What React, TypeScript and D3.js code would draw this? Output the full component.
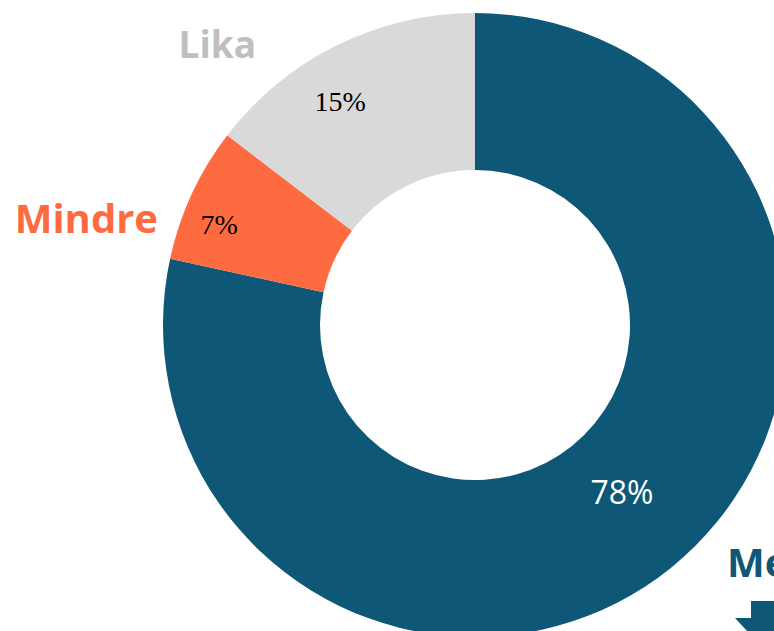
import React from "react";
import * as d3 from "d3";

const categories = ["Mer", "Mindre", "Lika"];
const values = [78.4, 7.0, 14.6];
const valueLabels = ["78%", "7%", "15%"];
const colors = ["#0E5776", "#FF6B40", "#D9D9D9"];
const labelColors = ["#0E5776", "#FF6B40", "#BFBFBF"];

const W = 774;
const H = 631;
const cx = 475;
const cy = 325;
const outerR = 312;
const innerR = 155;

export default function App() {
  const pie = d3.pie<number>().sort(null).value((d) => d)(values);
  const arc = d3.arc<d3.PieArcDatum<number>>().innerRadius(innerR).outerRadius(outerR);
  const labelRadius = [222, 275, 261];
  const labelAngleShiftDeg = [-2.6, -3.3, -4.8];
  const labelStyle = [
    { fill: "#fff", fontFamily: "'Open Sans', sans-serif", fontSize: 32 },
    { fill: "#000", fontFamily: "'Liberation Serif', serif", fontSize: 28 },
    { fill: "#000", fontFamily: "'Liberation Serif', serif", fontSize: 28 },
  ];
  const catPos = [
    { x: 727, y: 577, anchor: "start", size: 40 },
    { x: 158, y: 233, anchor: "end", size: 40 },
    { x: 256, y: 58, anchor: "end", size: 37 },
  ];
  return (
    <div style={{ position: "absolute", left: 0, top: 0, width: W, height: H, overflow: "hidden" }}>
      <svg width={W} height={H} style={{ display: "block" }}>
        <rect width={W} height={H} fill="#fff" />
        <g transform={`translate(${cx},${cy})`}>
          {pie.map((p, i) => (
            <path key={i} d={arc(p) || ""} fill={colors[i]} />
          ))}
          {pie.map((p, i) => {
            const a = (p.startAngle + p.endAngle) / 2 + (labelAngleShiftDeg[i] * Math.PI) / 180;
            const r = labelRadius[i];
            const x = Math.sin(a) * r;
            const y = -Math.cos(a) * r;
            return (
              <text
                key={i}
                x={x}
                y={y}
                textAnchor="middle"
                dominantBaseline="central"
                {...labelStyle[i]}
              >
                {valueLabels[i]}
              </text>
            );
          })}
        </g>
        {categories.map((c, i) => (
          <text
            key={c}
            x={catPos[i].x}
            y={catPos[i].y}
            textAnchor={catPos[i].anchor as any}
            fill={labelColors[i]}
            fontFamily="'Open Sans', sans-serif"
            fontWeight="bold"
            fontSize={catPos[i].size}
          >
            {c}
          </text>
        ))}
        <path d="M751,601 L800,601 L800,618 L813,618 L774,660 L735,618 L751,618 Z" fill={colors[0]} />
      </svg>
    </div>
  );
}
